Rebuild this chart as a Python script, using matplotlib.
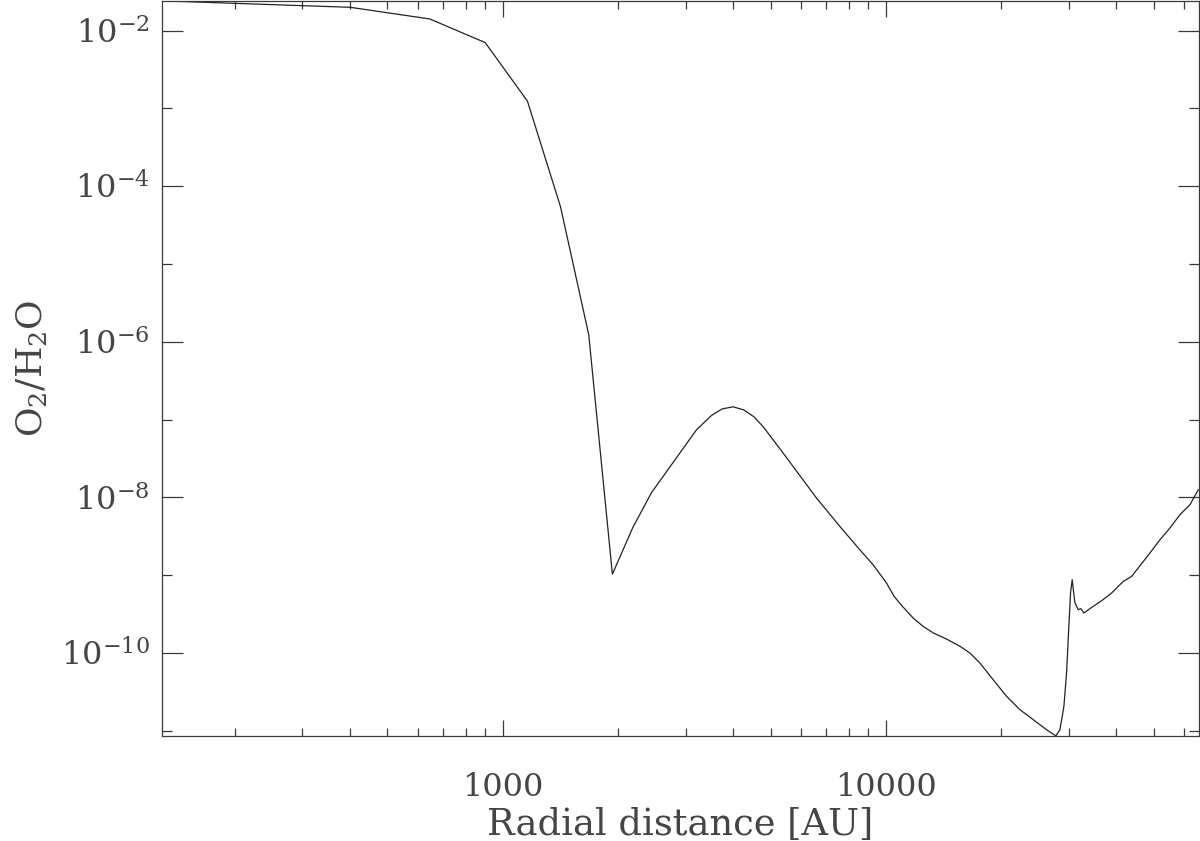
import numpy as np
import matplotlib
matplotlib.use('Agg')
import matplotlib.pyplot as plt
from matplotlib.ticker import FixedLocator, FixedFormatter, NullFormatter

plt.rcParams['font.family'] = 'DejaVu Serif'
plt.rcParams['mathtext.fontset'] = 'dejavuserif'

# radial distance [AU] and O2/H2O ratio
radius = [129, 400, 645, 900, 1160, 1415, 1677, 1933, 2184, 2445, 3204, 3507,
          3737, 3993, 4258, 4522, 4781, 5394, 6594, 7586, 8553, 9265, 10040,
          10512, 11050, 11783, 12514, 13290, 14404, 15607, 16570, 17596,
          19060, 20660, 22380, 24250, 26280, 27790, 28470, 29160, 29630,
          29920, 30350, 30650, 31150, 31780, 32290, 32890, 34440, 36580,
          38850, 41650, 43800, 46050, 48920, 51930, 55130, 58560, 62200,
          65370]
ratio = [2.41e-2, 1.99e-2, 1.41e-2, 7.0e-3, 1.24e-3, 5.45e-5, 1.23e-6,
         1.03e-9, 4.07e-9, 1.15e-8, 7.38e-8, 1.13e-7, 1.37e-7, 1.46e-7,
         1.33e-7, 1.09e-7, 8.14e-8, 3.71e-8, 9.79e-9, 4.23e-9, 2.12e-9,
         1.36e-9, 7.93e-10, 5.33e-10, 3.97e-10, 2.81e-10, 2.20e-10,
         1.81e-10, 1.51e-10, 1.22e-10, 1.00e-10, 7.44e-11, 4.54e-11,
         2.77e-11, 1.87e-11, 1.39e-11, 1.03e-11, 8.6e-12, 1.03e-11,
         2.06e-11, 5.53e-11, 1.48e-10, 5.95e-10, 8.74e-10, 4.43e-10,
         3.60e-10, 3.71e-10, 3.26e-10, 3.85e-10, 4.70e-10, 5.90e-10,
         8.31e-10, 9.63e-10, 1.32e-9, 1.93e-9, 2.85e-9, 4.03e-9, 5.98e-9,
         8.04e-9, 1.25e-8]

xticks_major = [1000, 10000]
xtick_labels = ['1000', '10000']
xticks_minor = [200, 300, 400, 500, 600, 700, 800, 900,
                2000, 3000, 4000, 5000, 6000, 7000, 8000, 9000,
                20000, 30000, 40000, 50000, 60000]
yticks_major = [1e-2, 1e-4, 1e-6, 1e-8, 1e-10]
ytick_labels = ['$10^{-2}$', '$10^{-4}$', '$10^{-6}$', '$10^{-8}$', '$10^{-10}$']
yticks_minor = [1e-3, 1e-5, 1e-7, 1e-9, 1e-11]

ink = '#3a3a3a'
txt = '#454545'

fig = plt.figure(figsize=(12, 8.41), dpi=100)
ax = fig.add_axes([0.135, 0.125, 0.864, 0.874])
ax.plot(radius, ratio, color='#222222', lw=0.9)
ax.set_xscale('log')
ax.set_yscale('log')
ax.set_xlim(129, 65600)
ax.set_ylim(8.6e-12, 2.41e-2)

ax.xaxis.set_major_locator(FixedLocator(xticks_major))
ax.xaxis.set_major_formatter(FixedFormatter(xtick_labels))
ax.xaxis.set_minor_locator(FixedLocator(xticks_minor))
ax.xaxis.set_minor_formatter(NullFormatter())
ax.yaxis.set_major_locator(FixedLocator(yticks_major))
ax.yaxis.set_major_formatter(FixedFormatter(ytick_labels))
ax.yaxis.set_minor_locator(FixedLocator(yticks_minor))
ax.yaxis.set_minor_formatter(NullFormatter())

ax.tick_params(axis='both', which='both', direction='in', top=True, right=True,
               color=ink, width=0.9, labelcolor=txt, labelsize=23)
ax.tick_params(axis='x', which='major', length=11.5, pad=26)
ax.tick_params(axis='x', which='minor', length=5.5)
ax.tick_params(axis='y', which='major', length=14.8, pad=9)
ax.tick_params(axis='y', which='minor', length=7.4)
for s in ax.spines.values():
    s.set_color(ink)
    s.set_linewidth(0.9)

ax.set_xlabel('Radial distance [AU]', fontsize=26.5, color=txt, labelpad=3)
ax.set_ylabel('O$_2$/H$_2$O', fontsize=26, color=txt, labelpad=8)

fig.savefig('out.png', dpi=100)
